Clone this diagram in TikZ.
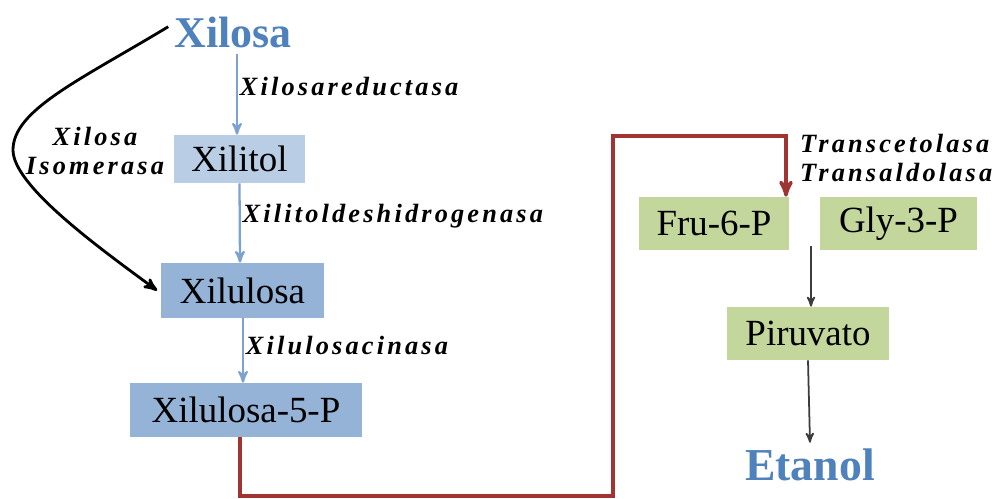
\documentclass[tikz,border=0pt]{standalone}
\usepackage{fontspec}
\setmainfont{Liberation Serif}
\newfontfamily\enzfont[LetterSpace=12]{Liberation Serif}
\usepackage{tikz}
\usetikzlibrary{arrows,positioning}
\usepackage{xcolor}

\definecolor{xblue}{RGB}{79,129,189}
\definecolor{boxlight}{RGB}{185,205,229}
\definecolor{boxblue}{RGB}{149,179,215}
\definecolor{boxgreen}{RGB}{195,214,155}
\definecolor{arrblue}{RGB}{125,162,208}
\definecolor{pathred}{RGB}{160,52,50}
\definecolor{arrgray}{RGB}{60,60,60}

\tikzset{
  metab/.style={inner sep=0pt,text=black,font=\fontsize{21}{24}\selectfont},
  enz/.style={font=\enzfont\fontsize{15}{17}\selectfont\bfseries\itshape,inner sep=1pt,align=left},
  blueflow/.style={->,>=stealth',draw=arrblue,line width=1.3pt},
  grayflow/.style={->,>=stealth',draw=arrgray,line width=1pt},
}

\begin{document}
\begin{tikzpicture}[x=0.02cm,y=-0.02cm]
    \useasboundingbox (0,0) rectangle (1002,499);
    % xylose branch
    \node [text=xblue,font=\fontsize{25}{28}\selectfont\bfseries] (xilosa) at (233,32) {Xilosa};
    \node [metab,fill=boxlight,minimum width=2.62cm,minimum height=0.96cm] (xilitol) at (239.5,159) {Xilitol};
    \node [metab,fill=boxblue,minimum width=3.26cm,minimum height=1.1cm] (xilulosa) at (242.5,290.5) {Xilulosa};
    \node [metab,fill=boxblue,minimum width=4.64cm,minimum height=1.08cm] (x5p) at (246,410) {Xilulosa-5-P};
    \draw [blueflow] (xilosa.south -| 237,0) -- node [enz,right,pos=0.4] (xr) {Xilosareductasa} (xilitol.north -| 237,0);
    \draw [blueflow] (xilitol.south) -- node [enz,right,pos=0.42] (xdh) {Xilitoldeshidrogenasa} (xilulosa.north -| 240,0);
    \draw [blueflow] (xilulosa.south -| 243,0) -- node [enz,right,pos=0.42] (xk) {Xilulosacinasa} (x5p.north -| 243,0);
    % isomerase shortcut
    \node [enz,align=center] (xi) at (95,151) {Xilosa\\Isomerasa};
    \coordinate (tip) at (13,150);
    \draw [->,>=stealth',line width=1.6pt] ([yshift=3pt]xilosa.west) .. controls (80,80) and (13,110) .. (tip)
        .. controls (13,185) and (95,245) .. ([xshift=-2pt]xilulosa.west);
    % glycolysis side
    \node [metab,fill=boxgreen,minimum width=3.0cm,minimum height=1.06cm] (fru) at (714,223.5) {Fru-6-P};
    \node [metab,fill=boxgreen,minimum width=3.14cm,minimum height=1.06cm] (gly) at (898.5,223.5) {Gly-3-P};
    \node [metab,fill=boxgreen,minimum width=3.24cm,minimum height=1.06cm] (piruvato) at (808,333.5) {Piruvato};
    \node [text=xblue,font=\fontsize{26}{29}\selectfont\bfseries] (etanol) at (810,465) {Etanol};
    \coordinate (split) at (811,246);
    \draw [grayflow] (split) -- (piruvato.north -| 811,0);
    \draw [grayflow] (piruvato.south) -- (etanol.north);
    % pentose phosphate link
    \coordinate (low) at (613,496);
    \draw [->,>=stealth',draw=pathred,line width=2pt] (x5p.south -| 240,0) |- (low) |- (786,136) -- (fru.north -| 786,0);
    \node [enz,anchor=west] (tt) at (798,158) {Transcetolasa\\Transaldolasa};
\end{tikzpicture}
\end{document}
